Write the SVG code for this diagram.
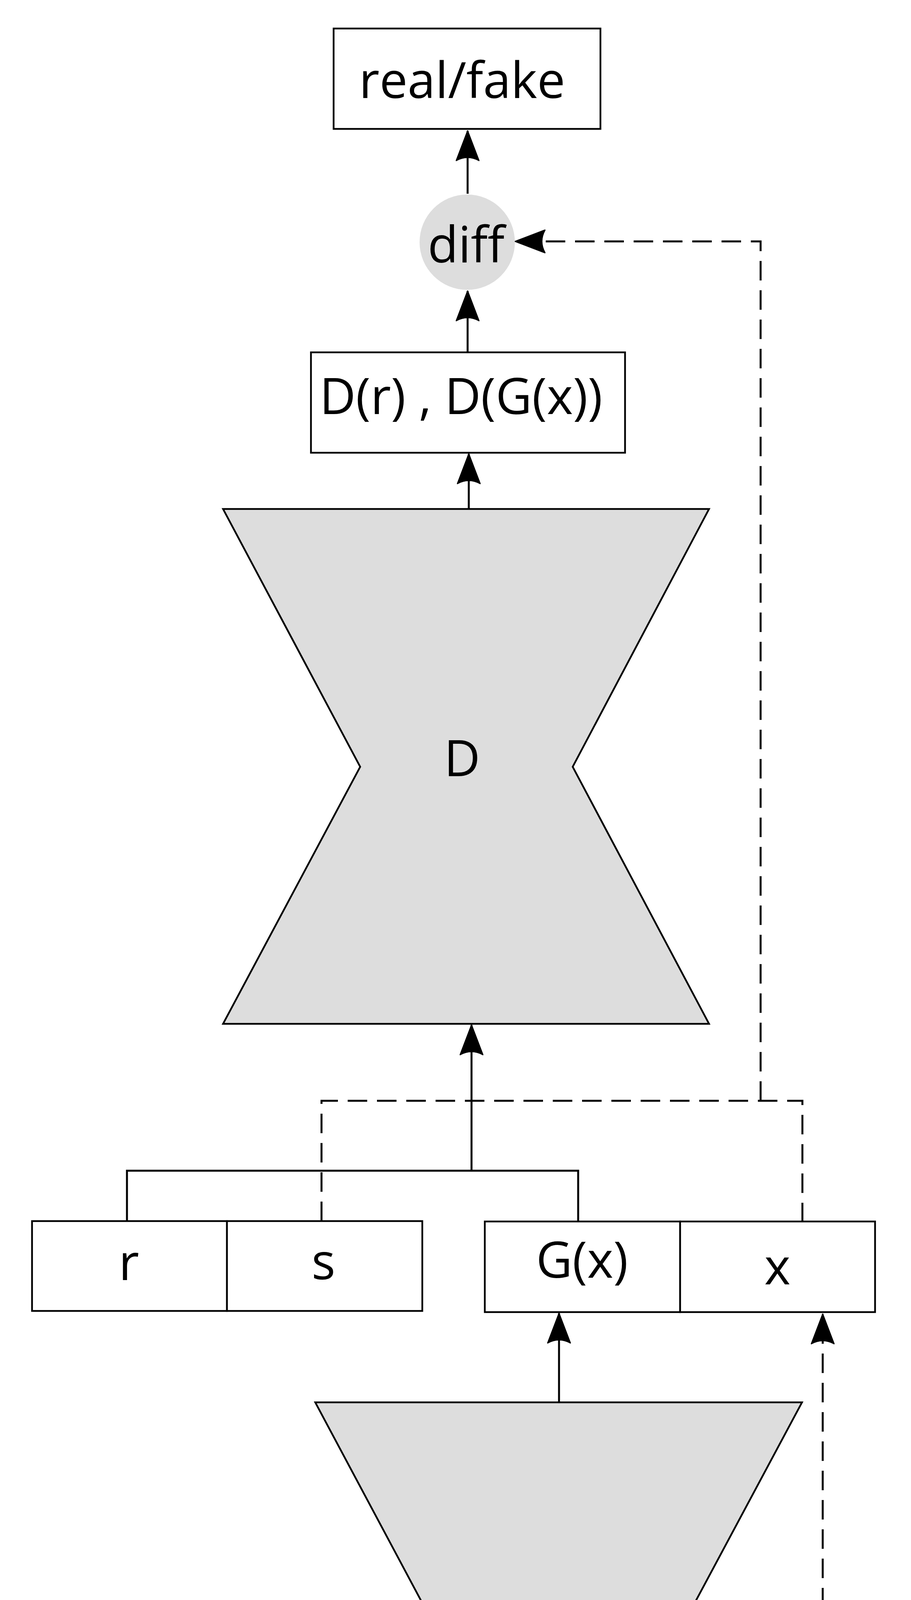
<svg xmlns="http://www.w3.org/2000/svg" width="2332" height="5487" viewBox="0 0 2332 5487">
<style>
.box{fill:#ffffff;stroke:#000000;stroke-width:4.5}
.shape{fill:#dddddd;stroke:#000000;stroke-width:4.5}
.lbl{font-family:"Open Sans","Liberation Sans",sans-serif;font-size:128px;fill:#000000;text-anchor:middle}
.edge{fill:none;stroke:#000000;stroke-width:5}
.dash{fill:none;stroke:#000000;stroke-width:5;stroke-dasharray:50 25}
</style>
<defs>
<marker id="arr" viewBox="-2 -2 80 62" refX="76" refY="29" markerWidth="80" markerHeight="62" markerUnits="userSpaceOnUse" orient="auto">
<path d="M76,29 L0,0 Q16,29 0,58 Z" fill="#000000" stroke="#000000" stroke-width="3" stroke-linejoin="round"/>
</marker>
</defs>
<rect width="2332" height="5487" fill="#ffffff"/>
<g id="realfake">
<rect class="box" x="854" y="73" width="683" height="257"/>
<text class="lbl" x="1183" y="251">real/fake</text>
</g>
<g id="diff">
<circle cx="1196" cy="620" r="122" fill="#dddddd"/>
<text class="lbl" x="1193" y="672">diff</text>
</g>
<g id="dout">
<rect class="box" x="796" y="902" width="804" height="257"/>
<text class="lbl" x="1180" y="1060">D(r) , D(G(x))</text>
</g>
<g id="D">
<polygon class="shape" points="571,1303 1815,1303 1466,1963 1815,2621 571,2621 922,1963"/>
<text class="lbl" x="1183" y="1987">D</text>
</g>
<g id="rs">
<rect class="box" x="82" y="3126" width="499" height="230"/>
<rect class="box" x="581" y="3126" width="500" height="230"/>
<text class="lbl" x="330" y="3277">r</text>
<text class="lbl" x="828" y="3275">s</text>
</g>
<g id="gxx">
<rect class="box" x="1241" y="3127" width="500" height="232"/>
<rect class="box" x="1741" y="3127" width="499" height="232"/>
<text class="lbl" x="1490" y="3271">G(x)</text>
<text class="lbl" x="1990" y="3288">x</text>
</g>
<g id="G">
<polygon class="shape" points="807,3590 2053,3590 1701,4248 2053,4906 808,4906 1158,4248"/>
<text class="lbl" x="1432" y="4279">G</text>
</g>
<g id="xin">
<rect class="box" x="1088" y="5141" width="684" height="257"/>
<text class="lbl" x="1430" y="5314">x</text>
</g>
<g id="connectors">
<path class="edge" d="M1197,496 V335" marker-end="url(#arr)"/>
<path class="edge" d="M1197,902 V745" marker-end="url(#arr)"/>
<path class="edge" d="M1200,1303 V1162" marker-end="url(#arr)"/>
<path class="edge" d="M325,3126 V2997 H1480 V3127"/>
<path class="edge" d="M1207,2997 V2624" marker-end="url(#arr)"/>
<path class="edge" d="M1431,3590 V3362" marker-end="url(#arr)"/>
<path class="edge" d="M1430,5141 V4909" marker-end="url(#arr)"/>
<path class="dash" d="M823,3126 V2818 H2054 V3127"/>
<path class="dash" d="M1947,2818 V618 H1319" marker-end="url(#arr)"/>
<path class="dash" d="M1772,5281 H2106 V3364" marker-end="url(#arr)"/>
</g>
</svg>
